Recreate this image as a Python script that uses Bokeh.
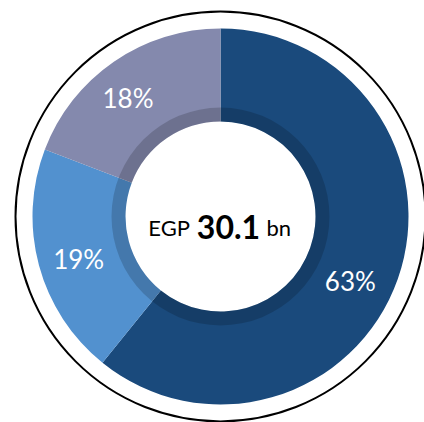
import math
from bokeh.plotting import figure
from bokeh.models import Range1d
from bokeh.core.properties import value
from bokeh.embed import file_html
from bokeh.resources import INLINE

# Data (shares of the ring as drawn, and their printed labels)
segments = ["A", "B", "C"]
shares = [60.8, 20.0, 19.2]
labels = ["63%", "19%", "18%"]
colors = ["#1a4a7c", "#5291cf", "#8489ad"]
center_prefix = "EGP"
center_value = "30.1"
center_suffix = "bn"

W, H = 424, 422
p = figure(width=W, height=H, output_backend="svg", toolbar_location=None,
           x_range=Range1d(0, W), y_range=Range1d(0, H), min_border=0,
           outline_line_color=None, background_fill_color="white")
p.axis.visible = False
p.grid.visible = False

cx, cy = 220, H - 216
r_in, r_out, r_band, r_ring = 95, 188, 109, 205

total = sum(shares)
start_c = 0.0
mids = []
for s, col in zip(shares, colors):
    end_c = start_c + 360.0 * s / total
    p.annular_wedge(x=cx, y=cy, inner_radius=r_in, outer_radius=r_out,
                    start_angle=math.radians(90 - start_c),
                    end_angle=math.radians(90 - end_c), direction="clock",
                    fill_color=col, line_color=None)
    mids.append((start_c + end_c) / 2)
    start_c = end_c

# darker inner band
p.annulus(x=cx, y=cy, inner_radius=r_in, outer_radius=r_band,
          fill_color="black", fill_alpha=0.17, line_color=None)

# outer black ring
p.circle(x=cx, y=cy, radius=r_ring, fill_color=None, line_color="black", line_width=2)

# percentage labels (placed near the middle of each slice, nudged as in the original)
label_nudge = [7.0, -1.5, -3.5]
label_r = [145, 148, 150]
lang = [m + d for m, d in zip(mids, label_nudge)]
lx = [cx + r * math.sin(math.radians(a)) for a, r in zip(lang, label_r)]
ly = [cy + r * math.cos(math.radians(a)) for a, r in zip(lang, label_r)]
p.text(x=lx, y=ly, text=labels, text_align="center", text_baseline="middle",
       text_color="white", text_font=value("Lato"), text_font_size="26px")

# centre text
base_y = cy - 10.7
p.text(x=[cx], y=[base_y], text=[center_value], x_offset=8, text_align="center",
       text_baseline="alphabetic", text_color="black", text_font=value("Lato"),
       text_font_size="32px", text_font_style="bold")
p.text(x=[cx], y=[base_y], text=[center_prefix], x_offset=-30.5, text_align="right",
       text_baseline="alphabetic", text_color="black", text_font=value("Lato"),
       text_font_size="22px")
p.text(x=[cx], y=[base_y], text=[center_suffix], x_offset=46, text_align="left",
       text_baseline="alphabetic", text_color="black", text_font=value("Lato"),
       text_font_size="22px")

open("out.html", "w").write(file_html(p, INLINE))
